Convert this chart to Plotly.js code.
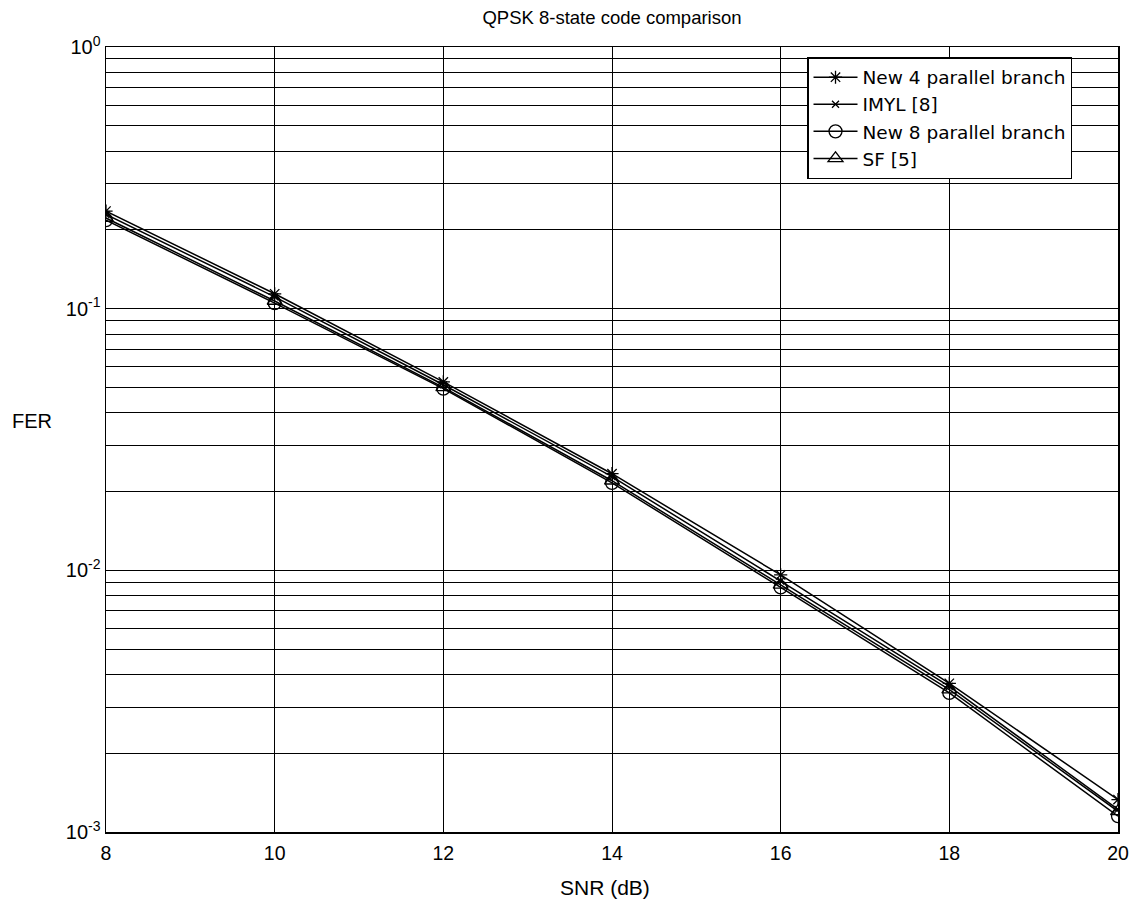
<!DOCTYPE html>
<html>
<head>
<meta charset="utf-8">
<script src="https://cdn.plot.ly/plotly-3.0.1.min.js"></script>
<style>
html,body{margin:0;padding:0;background:#fff;}
#chart{width:1129px;height:905px;}
</style>
</head>
<body>
<div id="chart"></div>
<script>
const snr = [8, 10, 12, 14, 16, 18, 20];
const new4 = [0.236, 0.114, 0.0525, 0.0234, 0.0096, 0.0037, 0.00133];
const imyl = [0.229, 0.111, 0.0512, 0.0228, 0.0091, 0.0036, 0.00122];
const new8 = [0.218, 0.105, 0.0495, 0.0216, 0.0086, 0.0034, 0.00115];
const sf = [0.222, 0.107, 0.0500, 0.0220, 0.0088, 0.0035, 0.00120];
const seriesNames = ["New 4 parallel branch", "IMYL [8]", "New 8 parallel branch", "SF [5]"];
const xTicks = [8, 10, 12, 14, 16, 18, 20];
const yTickVals = [0.001, 0.01, 0.1, 1];
const yTickText = ["10<sup>-3</sup>", "10<sup>-2</sup>", "10<sup>-1</sup>", "10<sup>0</sup>"];
const yMinorVals = [0.002,0.003,0.004,0.005,0.006,0.007,0.008,0.009,
                    0.02,0.03,0.04,0.05,0.06,0.07,0.08,0.09,
                    0.2,0.3,0.4,0.5,0.6,0.7,0.8,0.9];

const font = "Liberation Sans, Arial, Helvetica, sans-serif";
const legendFont = "DejaVu Sans, Liberation Sans, Arial, sans-serif";
const lineStyle = {color: "black", width: 1.5};
const mk = (sym, size) => ({symbol: sym, size: size, color: "black", line: {color: "black", width: 1.3}});

const traces = [
  {x: snr, y: new4, name: seriesNames[0], mode: "lines+markers", line: lineStyle, marker: mk("asterisk-open", 11)},
  {x: snr, y: imyl, name: seriesNames[1], mode: "lines+markers", line: lineStyle, marker: mk("x-thin-open", 7)},
  {x: snr, y: new8, name: seriesNames[2], mode: "lines+markers", line: lineStyle, marker: mk("circle-open", 13)},
  {x: snr, y: sf, name: seriesNames[3], mode: "lines+markers", line: lineStyle, marker: mk("triangle-up-open", 13)}
];

const layout = {
  width: 1129, height: 905,
  margin: {l: 106, r: 11, t: 47, b: 73},
  paper_bgcolor: "white", plot_bgcolor: "white",
  font: {family: font, color: "black", size: 18},
  title: {text: "QPSK 8-state code comparison", font: {size: 18.5, family: font, color: "black"},
          xref: "paper", x: 0.5, xanchor: "center", yref: "container", y: 1 - 18/905, yanchor: "middle"},
  xaxis: {range: [8, 20], tickvals: xTicks, ticktext: xTicks.map(String),
          showgrid: true, gridcolor: "black", gridwidth: 1,
          showline: true, linecolor: "black", linewidth: 1.5, mirror: true,
          ticks: "inside", ticklen: 6, tickcolor: "black", zeroline: false, ticklabelstandoff: 3,
          ticklabeloverflow: "allow",
          tickfont: {size: 19.5, family: font, color: "black"}},
  yaxis: {type: "log", range: [-3, 0], tickvals: yTickVals, ticktext: yTickText,
          showgrid: true, gridcolor: "black", gridwidth: 1,
          minor: {tickmode: "array", tickvals: yMinorVals, showgrid: true, gridcolor: "black", gridwidth: 1,
                  ticks: "inside", ticklen: 4, tickcolor: "black"},
          showline: true, linecolor: "black", linewidth: 1.5, mirror: true,
          ticks: "inside", ticklen: 6, tickcolor: "black", zeroline: false,
          ticklabeloverflow: "allow",
          tickfont: {size: 20, family: font, color: "black"}},
  showlegend: true,
  legend: {x: 0.6927, y: 0.987, xanchor: "left", yanchor: "top", itemwidth: 44,
           bgcolor: "white", bordercolor: "black", borderwidth: 1.5,
           font: {size: 18.5, family: legendFont, color: "black"}, tracegroupgap: 0},
  annotations: [
    {text: "FER", xref: "paper", yref: "paper", x: -0.0736, y: 0.5236, xanchor: "center", yanchor: "middle",
     showarrow: false, font: {size: 20, family: font, color: "black"}},
    {text: "SNR (dB)", xref: "paper", yref: "paper", x: 0.493, y: -0.071, xanchor: "center", yanchor: "middle",
     showarrow: false, font: {size: 21, family: font, color: "black"}}
  ]
};

Plotly.newPlot("chart", traces, layout, {displayModeBar: false, staticPlot: true});
</script>
</body>
</html>
